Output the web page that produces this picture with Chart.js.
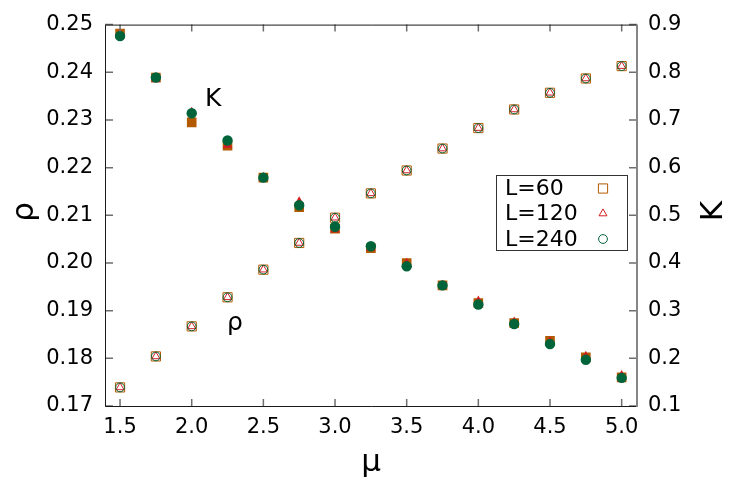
<!DOCTYPE html>
<html>
<head>
<meta charset="utf-8">
<title>rho and K vs mu</title>
<script src="https://cdn.jsdelivr.net/npm/chart.js@4/dist/chart.umd.min.js"></script>
<style>
  html, body { margin: 0; padding: 0; background: #fff; }
  #wrap { width: 739px; height: 501px; }
</style>
</head>
<body>
<div id="wrap"><canvas id="chart" width="739" height="501"></canvas></div>
<script>
// data
const mu = [1.5, 1.75, 2.0, 2.25, 2.5, 2.75, 3.0, 3.25, 3.5, 3.75, 4.0, 4.25, 4.5, 4.75, 5.0];

const rhoL60  = [0.1739, 0.1804, 0.1867, 0.1928, 0.1986, 0.2042, 0.2095, 0.2146, 0.2194, 0.2240, 0.2283, 0.2322, 0.2357, 0.2387, 0.2413];
const rhoL120 = [0.1739, 0.1804, 0.1867, 0.1928, 0.1986, 0.2042, 0.2095, 0.2146, 0.2194, 0.2240, 0.2283, 0.2322, 0.2357, 0.2387, 0.2413];
const rhoL240 = [0.1739, 0.1804, 0.1867, 0.1928, 0.1986, 0.2042, 0.2095, 0.2146, 0.2194, 0.2240, 0.2283, 0.2322, 0.2357, 0.2387, 0.2413];

const kL60  = [0.881, 0.789, 0.695, 0.646, 0.579, 0.517, 0.472, 0.431, 0.400, 0.353, 0.316, 0.274, 0.237, 0.202, 0.160];
const kL120 = [0.880, 0.785, 0.716, 0.647, 0.579, 0.528, 0.470, 0.431, 0.399, 0.353, 0.320, 0.276, 0.235, 0.204, 0.164];
const kL240 = [0.876, 0.789, 0.714, 0.657, 0.579, 0.521, 0.476, 0.435, 0.393, 0.353, 0.313, 0.272, 0.230, 0.197, 0.159];

const sizes = ["L=60", "L=120", "L=240"];

const muTicks = [1.5, 2.0, 2.5, 3.0, 3.5, 4.0, 4.5, 5.0];
const rhoTicks = [0.17, 0.18, 0.19, 0.20, 0.21, 0.22, 0.23, 0.24, 0.25];
const kTicks = [0.1, 0.2, 0.3, 0.4, 0.5, 0.6, 0.7, 0.8, 0.9];

const ORANGE = "#b35a00";
const RED = "#d21e22";
const GREEN = "#00643a";
const FONT = "'DejaVu Sans', 'Liberation Sans', sans-serif";

function pts(ys) {
  return mu.map((x, i) => ({ x: x, y: ys[i] }));
}

// open markers = rho, filled markers = K
const styles = [
  { style: "rect", color: ORANGE, rOpen: 6.5, rFill: 6.8 },
  { style: "triangle", color: RED, rOpen: 4.6, rFill: 5.6 },
  { style: "circle", color: GREEN, rOpen: 4.4, rFill: 5.2 }
];
const rhoSeries = [rhoL60, rhoL120, rhoL240];
const kSeries = [kL60, kL120, kL240];

const datasets = [];
styles.forEach((s, i) => {
  datasets.push({
    label: "rho " + sizes[i],
    data: pts(rhoSeries[i]),
    yAxisID: "rho",
    showLine: false,
    pointStyle: s.style,
    pointRadius: s.rOpen,
    pointBackgroundColor: "rgba(0,0,0,0)",
    pointBorderColor: s.color,
    pointBorderWidth: 1,
    order: 3 - i
  });
  datasets.push({
    label: "K " + sizes[i],
    data: pts(kSeries[i]),
    yAxisID: "kap",
    showLine: false,
    pointStyle: s.style,
    pointRadius: s.rFill,
    pointBackgroundColor: s.color,
    pointBorderColor: s.color,
    pointBorderWidth: 0,
    order: 3 - i
  });
});

function fixedTicks(list) {
  return function (scale) {
    scale.ticks = list.map(v => ({ value: v }));
  };
}

// frame, inward ticks, axis titles, in-plot labels and the legend box
const decor = {
  id: "decor",
  afterDraw(chart) {
    const ctx = chart.ctx;
    const a = chart.chartArea;
    const xs = chart.scales.x, ys = chart.scales.rho, ks = chart.scales.kap;
    ctx.save();

    // tick marks pointing into the plot
    ctx.strokeStyle = "#6e6e6e";
    ctx.lineWidth = 1.5;
    ctx.beginPath();
    muTicks.forEach(v => {
      const px = xs.getPixelForValue(v);
      ctx.moveTo(px, a.bottom); ctx.lineTo(px, a.bottom - 7);
      ctx.moveTo(px, a.top); ctx.lineTo(px, a.top + 7);
    });
    rhoTicks.forEach(v => {
      const py = ys.getPixelForValue(v);
      ctx.moveTo(a.left, py); ctx.lineTo(a.left + 8, py);
    });
    kTicks.forEach(v => {
      const py = ks.getPixelForValue(v);
      ctx.moveTo(a.right, py); ctx.lineTo(a.right - 8, py);
    });
    ctx.stroke();

    // frame
    ctx.strokeStyle = "#1a1a1a";
    ctx.lineWidth = 1;
    ctx.beginPath();
    ctx.moveTo(a.right, a.top + 0.5);
    ctx.lineTo(a.left + 0.5, a.top + 0.5);
    ctx.lineTo(a.left + 0.5, a.bottom + 0.5);
    ctx.lineTo(a.right, a.bottom + 0.5);
    ctx.stroke();
    ctx.strokeStyle = "#858585";
    ctx.lineWidth = 2;
    ctx.beginPath();
    ctx.moveTo(a.right, a.top);
    ctx.lineTo(a.right, a.bottom + 1);
    ctx.stroke();

    // axis titles
    ctx.fillStyle = "#000";
    ctx.font = "31px " + FONT;
    ctx.textAlign = "center";
    ctx.textBaseline = "alphabetic";
    ctx.fillText("μ", (a.left + a.right) / 2, 471);

    ctx.save();
    ctx.translate(33, 212);
    ctx.rotate(-Math.PI / 2);
    ctx.fillText("ρ", 0, 0);
    ctx.restore();

    ctx.save();
    ctx.translate(722, 211);
    ctx.rotate(-Math.PI / 2);
    ctx.fillText("K", 0, 0);
    ctx.restore();

    // curve labels
    ctx.font = "25px " + FONT;
    ctx.textAlign = "left";
    ctx.fillText("K", xs.getPixelForValue(2.093), ks.getPixelForValue(0.730));
    ctx.fillText("ρ", xs.getPixelForValue(2.247), ys.getPixelForValue(0.1860));

    // legend
    const box = { x: 496.5, y: 175.5, w: 131, h: 75 };
    ctx.fillStyle = "#fff";
    ctx.fillRect(box.x, box.y, box.w, box.h);
    ctx.strokeStyle = "#333";
    ctx.lineWidth = 1;
    ctx.strokeRect(box.x, box.y, box.w, box.h);
    const rowY = [188.5, 213.5, 239];
    ctx.font = "22px " + FONT;
    ctx.textBaseline = "middle";
    ctx.fillStyle = "#000";
    sizes.forEach((name, i) => {
      ctx.fillText(name, 505, rowY[i] + 1);
      const s = styles[i];
      ctx.strokeStyle = s.color;
      ctx.fillStyle = "rgba(0,0,0,0)";
      ctx.lineWidth = 1;
      Chart.helpers.drawPoint(ctx, { pointStyle: s.style, radius: s.rOpen, rotation: 0, borderWidth: 1 }, 603, rowY[i]);
      ctx.fillStyle = "#000";
    });

    ctx.restore();
  }
};

const tickFont = { family: FONT, size: 21 };

new Chart(document.getElementById("chart"), {
  type: "scatter",
  data: { datasets: datasets },
  options: {
    responsive: false,
    animation: false,
    events: [],
    layout: { padding: { top: 20, left: 0, right: 0, bottom: 0 } },
    plugins: { legend: { display: false }, tooltip: { enabled: false } },
    scales: {
      x: {
        type: "linear",
        min: 1.395,
        max: 5.107,
        afterBuildTicks: fixedTicks(muTicks),
        afterFit: s => { s.height = 95; },
        grid: { display: false, drawTicks: false },
        border: { display: false },
        ticks: { font: tickFont, color: "#000", padding: 9, maxRotation: 0, autoSkip: false,
                 callback: v => Number(v).toFixed(1) }
      },
      rho: {
        type: "linear",
        position: "left",
        min: 0.17,
        max: 0.25,
        afterBuildTicks: fixedTicks(rhoTicks),
        afterFit: s => { s.width = 105; },
        grid: { display: false, drawTicks: false },
        border: { display: false },
        ticks: { font: tickFont, color: "#000", padding: 12, autoSkip: false,
                 callback: v => Number(v).toFixed(2) }
      },
      kap: {
        type: "linear",
        position: "right",
        min: 0.1,
        max: 0.9,
        afterBuildTicks: fixedTicks(kTicks),
        afterFit: s => { s.width = 102; },
        grid: { display: false, drawTicks: false },
        border: { display: false },
        ticks: { font: tickFont, color: "#000", padding: 11, autoSkip: false,
                 callback: v => Number(v).toFixed(1) }
      }
    }
  },
  plugins: [decor]
});
</script>
</body>
</html>
